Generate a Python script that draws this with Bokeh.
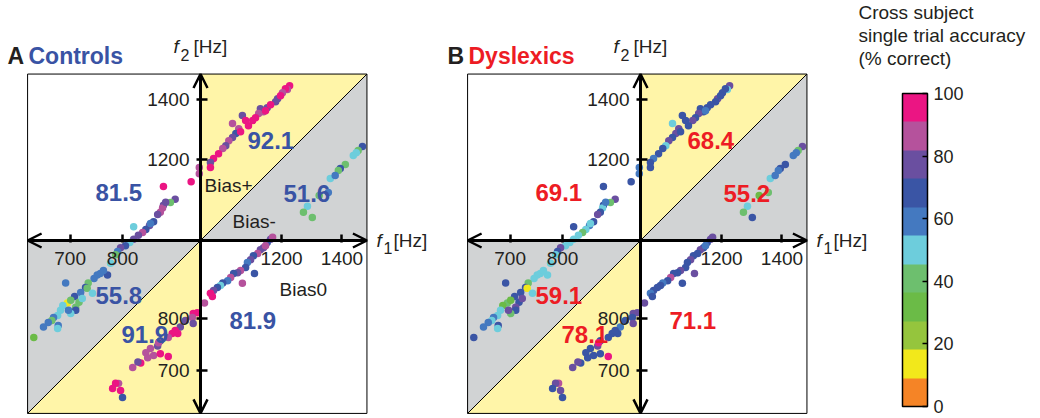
import numpy as np
from bokeh.plotting import figure
from bokeh.models import (LogAxis, FixedTicker, PrintfTickFormatter, Range1d, Arrow, OpenHead,
                          Label, ColorBar, LinearColorMapper, ColumnDataSource)
from bokeh.layouts import row
from bokeh.embed import file_html
from bokeh.resources import INLINE

# ---------------- data ----------------
f1 = [1225, 1218, 1212, 1203, 1188, 1182, 1157, 1146, 1137, 1132, 1123, 1115, 1103, 1086, 1059, 1076,
      1068, 1059, 1049, 1041, 1033, 1022, 1009, 1001, 1001, 1167, 1197, 1095, 1152, 1081,
      973, 973, 953, 888, 915, 904, 888, 886, 881, 875, 866, 857, 849, 842, 823, 833, 823, 859, 893,
      815, 806, 796, 790, 786, 776, 770, 756, 750, 744, 733, 728, 731, 741, 708, 716, 710, 710, 701,
      695, 701, 687, 683, 678, 671, 668, 662, 679, 678, 654, 638, 692, 719, 762, 722, 697,
      1167, 1157, 1146, 1137, 1129, 1117, 1109, 1100, 1095, 1081, 1073, 1062, 1054, 1046, 1033, 1027,
      1019, 1009, 1001, 1006, 986, 1120, 1086, 1152, 1173,
      968, 958, 956, 958, 939, 927, 921, 908, 899, 881, 875, 859, 849, 866, 881, 899, 877, 838, 832,
      821, 853, 792, 786, 780, 796, 800, 915,
      1475, 1459, 1441, 1412, 1394, 1387, 1359, 1352, 1321, 1282, 1269, 1298, 1376, 1452]
f2 = [1448, 1434, 1437, 1423, 1401, 1390, 1369, 1355, 1366, 1349, 1335, 1325, 1308, 1342, 1315, 1298,
      1282, 1269, 1259, 1243, 1234, 1218, 1203, 1191, 1176, 1380, 1412, 1325, 1359, 1288,
      1176, 1157, 1134, 1120, 1084, 1075, 1068, 1060, 1049, 1043, 1024, 1014, 1004, 996, 1011, 989, 979, 1019, 1076,
      971, 963, 958, 949, 941, 921, 894, 897, 894, 886, 876, 866, 864, 853, 846, 834, 823, 817, 810,
      832, 838, 827, 817, 806, 802, 796, 792, 786, 780, 783, 762, 876, 855, 904, 842, 817,
      979, 971, 958, 953, 944, 939, 929, 923, 911, 904, 899, 897, 888, 881, 876, 870,
      866, 859, 853, 846, 832, 897, 875, 963, 984,
      812, 810, 802, 790, 796, 783, 770, 770, 762, 756, 746, 741, 733, 728, 731, 726, 752, 714, 716,
      706, 724, 678, 678, 669, 666, 654, 776,
      1240, 1228, 1212, 1185, 1173, 1167, 1143, 1103, 1095, 1065, 1049, 1035, 1152, 1221]
acc_controls = [95, 86, 95, 86, 77, 77, 77, 86, 77, 86, 95, 95, 95, 77, 86, 86,
                68, 77, 86, 77, 86, 95, 95, 77, 95, 95, 95, 95, 95, 95,
                86, 86, 95, 95, 77, 41, 77, 86, 86, 77, 68, 77, 68, 86, 50, 77, 77, 59, 77,
                50, 68, 77, 59, 41, 50, 68, 59, 59, 59, 41, 68, 41, 50, 68, 41, 41, 68, 50,
                14, 41, 50, 50, 50, 59, 41, 59, 59, 50, 59, 32, 59, 59, 59, 50, 59,
                77, 68, 77, 77, 86, 68, 77, 59, 68, 86, 77, 68, 86, 59, 68, 50,
                68, 77, 95, 95, 86, 68, 86, 86, 86,
                95, 95, 86, 77, 77, 77, 95, 95, 86, 68, 77, 86, 86, 86, 95, 95, 86, 95, 77,
                86, 86, 86, 95, 95, 95, 68, 95,
                68, 41, 50, 41, 68, 41, 50, 59, 41, 50, 41, 41, 59, 50]
acc_dyslexics = [77, 50, 68, 68, 77, 68, 68, 68, 68, 77, 68, 77, 68, 68, 50, 77,
                 77, 68, 77, 50, 68, 68, 59, 68, 68, 68, 68, 68, 59, 68,
                 59, 59, 68, 68, 77, 41, 68, 50, 68, 77, 68, 59, 50, 41, 68, 50, 50, 50, 59,
                 50, 50, 77, 68, 50, 50, 50, 50, 50, 50, 41, 68, 14, 50, 68, 68, 77, 68, 41,
                 41, 32, 32, 50, 50, 59, 50, 59, 68, 50, 59, 68, 68, 68, 50, 77, 77,
                 77, 68, 68, 77, 68, 68, 77, 68, 68, 77, 68, 68, 86, 68, 59, 68,
                 68, 68, 59, 68, 77, 77, 68, 59, 77,
                 77, 77, 68, 77, 68, 59, 68, 68, 68, 68, 77, 68, 68, 68, 68, 95, 95, 68, 77,
                 77, 68, 86, 77, 68, 77, 68, 68,
                 77, 41, 59, 68, 68, 59, 50, 41, 32, 50, 41, 68, 59, 59]

quad_controls = ["81.5", "92.1", "51.6", "55.8", "91.9", "81.9"]
quad_dyslexics = ["69.1", "68.4", "55.2", "59.1", "78.1", "71.1"]
bias_labels = ["Bias+", "Bias-", "Bias0"]
axis_ticks = [700, 800, 1200, 1400]
cbar_ticks = [0, 20, 40, 60, 80, 100]
palette = ["#F58426", "#F2E81B", "#95C53D", "#6BBB47", "#6DBF6E", "#6DCDDC",
           "#4479C0", "#3A55A5", "#6A4FA0", "#B5529C", "#EB1583"]

# ---------------- layout constants ----------------
CROSS, LO, HI = 976, 628, 1492
PXDEC = 903.0
H = 418
CY = 240          # crossing point, px from top
FONT = "Liberation Sans"
TXT = "#231F20"
BLUE = "#3953A4"
RED = "#ED1C24"
YEL = "#FFF5A8"
GRY = "#D1D3D4"

mapper = LinearColorMapper(palette=palette, low=0, high=100)

# label offsets relative to the crossing point (dx px right, baseline px from frame bottom)
quad_pos = [(-105, 218), (47, 270), (83, 217), (-105, 115), (-79, 76), (29, 90)]
bias_pos = [(4, 227), (32, 191), (79, 123)]


def lab(p, x, y, text, size=19, color=TXT, style="normal", align="left"):
    # small empirical correction so that the glyph baseline lands on y
    p.add_layout(Label(x=x, y=y + 0.33 * size, x_units="screen", y_units="screen", text=text,
                       text_font=FONT, text_font_size=f"{size}px", text_color=color,
                       text_font_style=style, text_align=align, text_baseline="alphabetic"))


def make_panel(width, cx, letter, name, name_color, acc, quad_vals, show_bias):
    xr = Range1d(CROSS * 10 ** (-cx / PXDEC), CROSS * 10 ** ((width - cx) / PXDEC))
    yr = Range1d(CROSS * 10 ** (-(H - CY) / PXDEC), CROSS * 10 ** (CY / PXDEC))
    p = figure(width=width, height=H, x_axis_type="log", y_axis_type="log",
               x_range=xr, y_range=yr, x_axis_location=None, y_axis_location=None,
               toolbar_location=None, output_backend="svg", min_border=0,
               outline_line_color=None, background_fill_color="white", border_fill_color="white")
    p.grid.visible = False

    p.patches(xs=[[CROSS, CROSS, HI], [CROSS, HI, HI], [LO, LO, CROSS], [LO, CROSS, CROSS]],
              ys=[[CROSS, HI, HI], [CROSS, CROSS, HI], [LO, CROSS, CROSS], [LO, LO, CROSS]],
              fill_color=[YEL, GRY, GRY, YEL], line_color=None)
    p.line([LO, HI], [LO, HI], line_color="black", line_width=1)
    p.quad(left=LO, right=HI, bottom=LO, top=HI, fill_color=None, line_color="black", line_width=1)

    src = ColumnDataSource(dict(f1=f1, f2=f2, acc=acc))
    p.scatter("f1", "f2", source=src, size=7.5, line_color=None,
              fill_color={"field": "acc", "transform": mapper})

    common = dict(fixed_location=CROSS, ticker=FixedTicker(ticks=axis_ticks),
                  formatter=PrintfTickFormatter(format="%d"), axis_line_color=None,
                  major_tick_line_width=2.5, major_tick_line_color="black",
                  minor_tick_line_color=None, major_label_text_font_size="19px",
                  major_label_text_font=FONT, major_label_text_color=TXT)
    xa = LogAxis(major_tick_in=6, major_tick_out=2, major_label_standoff=9, **common)
    ya = LogAxis(major_tick_in=7, major_tick_out=4, major_label_standoff=7, **common)
    p.add_layout(xa, "below")
    p.add_layout(ya, "left")

    for (xs, ys, xe, ye) in [(LO, CROSS, HI, CROSS), (CROSS, LO, CROSS, HI)]:
        p.add_layout(Arrow(start=OpenHead(size=14, line_width=2.5, line_color="black"),
                           end=OpenHead(size=14, line_width=2.5, line_color="black"),
                           x_start=xs, y_start=ys, x_end=xe, y_end=ye,
                           line_width=3, line_color="black"))

    # titles
    lab(p, max(cx - 193, 0), 355, letter, size=23, color="#231F20", style="bold")
    lab(p, cx - 172, 355, name, size=23, color=name_color, style="bold")
    # axis names
    lab(p, cx - 27, 366, "f", style="italic")
    lab(p, cx - 20, 358, "2", size=16)
    lab(p, cx - 7, 366, "[Hz]")
    lab(p, cx + 176, 172, "f", style="italic")
    lab(p, cx + 183, 165, "1", size=16)
    lab(p, cx + 193, 172, "[Hz]")
    # quadrant accuracies
    for (dx, y), t in zip(quad_pos, quad_vals):
        lab(p, cx + dx, y, t, size=24, color=name_color, style="bold")
    if show_bias:
        for (dx, y), t in zip(bias_pos, bias_labels):
            lab(p, cx + dx, y, t)
    return p


pA = make_panel(446, 200, "A", "Controls", BLUE, acc_controls, quad_controls, True)
pB = make_panel(594, 194, "B", "Dyslexics", RED, acc_dyslexics, quad_dyslexics, False)

cb = ColorBar(color_mapper=mapper, ticker=FixedTicker(ticks=cbar_ticks), width=25, height=313,
              location=(456, 12), padding=0, orientation="vertical",
              major_tick_in=5, major_tick_out=0, major_tick_line_color="black",
              major_tick_line_width=1.5, minor_tick_line_color=None,
              bar_line_color="black", bar_line_width=1.5, border_line_color=None,
              background_fill_color=None, major_label_text_font_size="18px",
              major_label_text_font=FONT, major_label_text_color=TXT, label_standoff=6)
pB.add_layout(cb)
for i, t in enumerate(["Cross subject", "single trial accuracy", "(% correct)"]):
    lab(pB, 412, 400 - 23 * i, t)

layout = row(pA, pB)
open("out.html", "w").write(file_html(layout, INLINE))
